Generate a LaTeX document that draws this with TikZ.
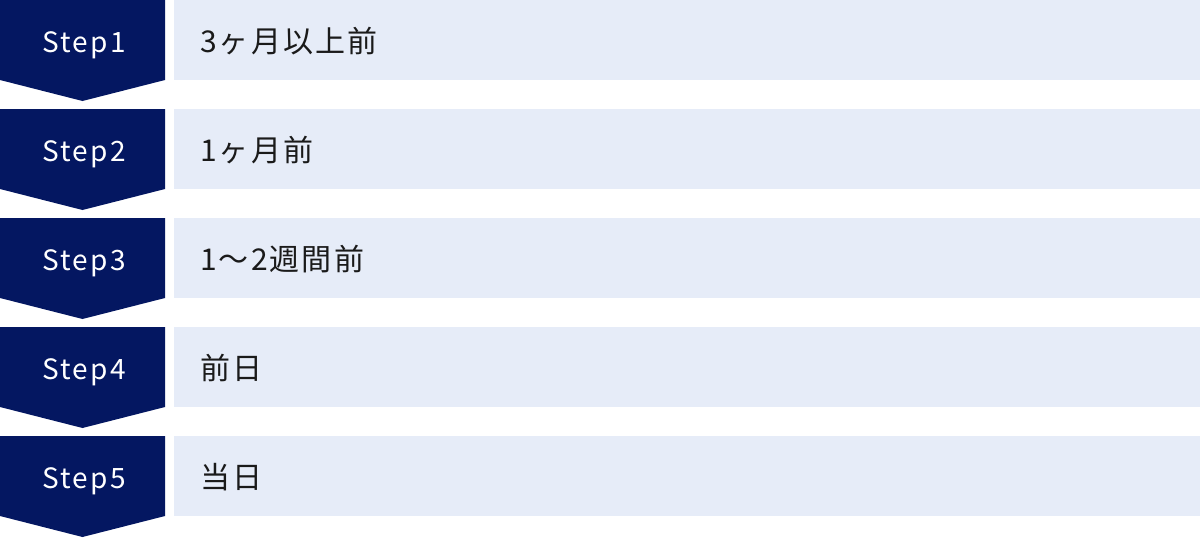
\documentclass[tikz,border=0pt]{standalone}
\usepackage{fontspec}
\setmainfont{Noto Sans CJK JP}
\usetikzlibrary{positioning}
\definecolor{DarkNavy}{HTML}{041761}
\definecolor{LightBlue}{HTML}{E6ECF8}
\definecolor{InkBlack}{HTML}{1A1A1A}
\tikzset{
  steplabel/.style={text=white,inner sep=0pt,anchor=base,
    font=\fontsize{28}{28}\selectfont\addfontfeature{LetterSpace=8}},
  whenlabel/.style={text=InkBlack,inner sep=0pt,anchor=base west,
    font=\fontsize{30}{30}\selectfont\addfontfeature{LetterSpace=7}}
}

\begin{document}
\begin{tikzpicture}[x=1pt,y=-1pt]
  \useasboundingbox (0,0) rectangle (1200,538);

  \foreach \i/\t in {1/3ヶ月以上前,2/1ヶ月前,3/1〜2週間前,4/前日,5/当日}{%
    \pgfmathsetmacro{\top}{(\i-1)*109}
    % chevron and bar
    \fill[DarkNavy] (0,\top) -- (165,\top) -- (165,\top+80)
      -- (82.5,\top+101) -- (0,\top+80) -- cycle;
    \fill[LightBlue] (174,\top) rectangle (1200,\top+80);
    \node[steplabel] (step\i) at (84,\top+52) {Step\i};
    \node[whenlabel] (when\i) at (200,\top+52) {\t};
  }
\end{tikzpicture}
\end{document}
